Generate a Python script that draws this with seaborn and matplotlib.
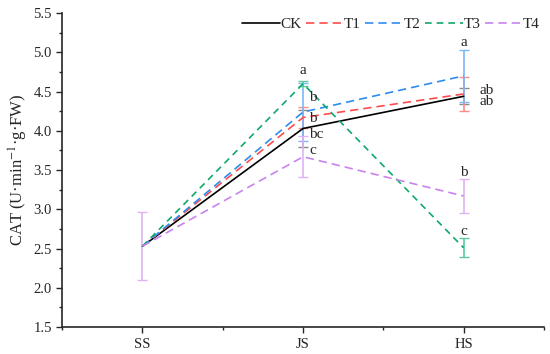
import matplotlib
matplotlib.use('Agg')
import matplotlib.pyplot as plt
import pandas as pd
import seaborn as sns

sns.set_style('ticks')
plt.rcParams['font.family'] = ['Liberation Serif', 'DejaVu Serif']
plt.rcParams['mathtext.fontset'] = 'stix'

stages = ['SS', 'JS', 'HS']
groups = ['CK', 'T1', 'T2', 'T3', 'T4']
ck = [2.53, 4.03, 4.44]
t1 = [2.53, 4.17, 4.47]
t2 = [2.53, 4.24, 4.70]
t3 = [2.53, 4.60, 2.51]
t4 = [2.53, 3.67, 3.17]
ck_err = [0.0, 0.23, 0.10]
t1_err = [0.0, 0.13, 0.22]
t2_err = [0.0, 0.37, 0.33]
t3_err = [0.0, 0.03, 0.12]
t4_err = [0.43, 0.26, 0.22]
colors = ['#000000', '#FF4B4B', '#2F8CF0', '#10A86A', '#C983EE']
err_colors = ['#8C8C8C', '#FF8A8A', '#7DB8F5', '#5CCB9C', '#DDB3F5']

# significance letters (stage index, y, text)
letters_x = [1, 1, 1, 1, 1, 2, 2, 2, 2, 2]
letters_y = [4.77, 4.42, 4.16, 3.95, 3.75, 5.12, 4.52, 4.37, 3.47, 2.72]
letters = ['a', 'b', 'b', 'bc', 'c', 'a', 'ab', 'ab', 'b', 'c']
letters_dx = [0, 0.04, 0.04, 0.04, 0.04, 0, 0.1, 0.1, 0, 0]

values = [ck, t1, t2, t3, t4]
errs = [ck_err, t1_err, t2_err, t3_err, t4_err]

rows = []
for g, vals in zip(groups, values):
    for s, v in zip(stages, vals):
        rows.append({'stage': s, 'CAT': v, 'group': g})
df = pd.DataFrame(rows)

fig = plt.figure(figsize=(5.5, 3.54), dpi=100)
ax = fig.add_axes([0.113, 0.076, 0.876, 0.887])

# error bars first, purple last so it sits on top at SS
for i, g in enumerate(groups):
    e = errs[i]
    keep = [k for k in range(len(stages)) if e[k] > 0]
    ax.errorbar(keep, [values[i][k] for k in keep], yerr=[e[k] for k in keep], fmt='none',
                ecolor=err_colors[i], elinewidth=1.2, capsize=3.5, capthick=1.0, zorder=2)

dashes = {'CK': '', 'T1': (5, 3), 'T2': (5, 3), 'T3': (4, 3), 'T4': (5, 3)}
sns.lineplot(data=df, x='stage', y='CAT', hue='group', style='group',
             palette=dict(zip(groups, colors)), dashes=dashes, linewidth=1.2,
             ax=ax, zorder=3, sort=False)

for x, y, t, dx in zip(letters_x, letters_y, letters, letters_dx):
    ax.text(x + dx, y, t, ha='center' if dx == 0 else 'left', va='center', fontsize=11)

ax.set_xlim(-0.5, 2.5)
ax.set_ylim(1.5, 5.5)
ax.set_yticks([1.5, 2.0, 2.5, 3.0, 3.5, 4.0, 4.5, 5.0, 5.5])
ax.set_yticks([1.75 + 0.5 * i for i in range(8)], minor=True)
ax.set_xticks([-0.5, 0.5, 1.5, 2.5], minor=True)
ax.set_xlabel('')
ax.set_ylabel('CAT (U·min$^{-1}$·g·FW)', fontsize=12, labelpad=2)
ax.tick_params(axis='both', labelsize=10.5, direction='out', length=4, width=1)
ax.tick_params(which='minor', length=2.5, width=1)
sns.despine(ax=ax)
for sp in ['left', 'bottom']:
    ax.spines[sp].set_linewidth(1.2)

ax.legend(loc='upper right', bbox_to_anchor=(1.02, 1.03), ncol=5, frameon=False,
          handlelength=2.5, handletextpad=0.0, columnspacing=0.3, fontsize=11)

fig.savefig('out.png', dpi=100)
